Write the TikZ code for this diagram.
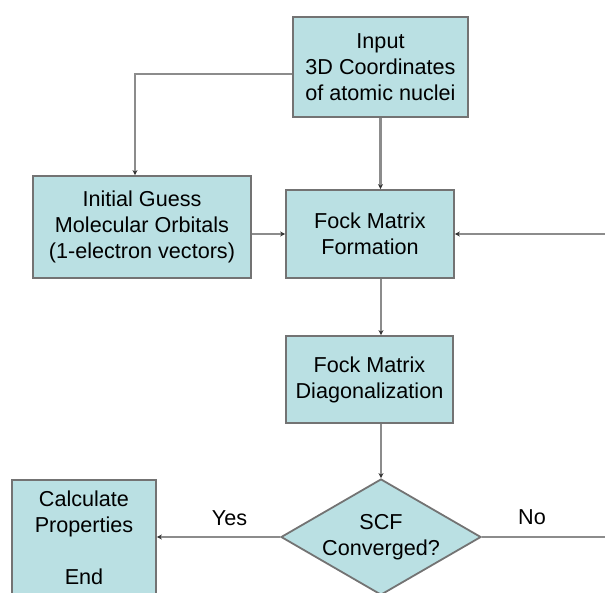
\documentclass[tikz,border=0pt]{standalone}
\usepackage{fontspec}
\setmainfont{Liberation Sans}
\usetikzlibrary{arrows.meta,shapes.geometric}
\definecolor{boxfill}{RGB}{186,224,227}
\definecolor{boxline}{RGB}{115,115,115}
\definecolor{conn}{RGB}{140,140,140}
\definecolor{tipc}{RGB}{50,50,50}
\begin{document}
\begin{tikzpicture}[x=1pt,y=-1pt,
  font=\fontsize{21.6}{26}\selectfont,
  box/.style={draw=boxline,line width=1.8pt,fill=boxfill,rectangle,align=center,inner sep=0pt,text=black},
  dec/.style={draw=boxline,line width=1.8pt,fill=boxfill,diamond,inner sep=0pt,minimum width=200pt,minimum height=116pt},
  conn/.style={draw=conn,line width=2.2pt,-{Stealth[length=5pt,width=5pt,color=tipc]}},
  lbl/.style={text=black,inner sep=0pt}
]
\useasboundingbox (0,0) rectangle (605,592);
\clip (0,0) rectangle (605,592);
\node[box,minimum width=175pt,minimum height=100pt] (input) at (380.5,67) {Input\\3D Coordinates\\of atomic nuclei};
\node[box,minimum width=218pt,minimum height=102pt] (guess) at (142,227) {Initial Guess\\Molecular Orbitals\\(1-electron vectors)};
\node[box,minimum width=168pt,minimum height=88pt] (fock) at (370,234) {Fock Matrix\\Formation};
\node[box,minimum width=167pt,minimum height=87pt] (diag) at (369.5,379.5) {Fock Matrix\\Diagonalization};
\node[dec,label={[lbl,align=center]center:SCF\\Converged?}] (scf) at (381,537) {};
\node[box,minimum width=144pt,minimum height=116pt] (calc) at (84,538) {Calculate\\Properties\\\\End};
\coordinate (loopR) at (650,537);
\draw[conn] ([yshift=-7pt]input.west) -| ([xshift=-7pt]guess.north);
\draw[conn] (input.south) -- (input.south |- fock.north);
\draw[conn] (guess.east |- fock.west) -- (fock.west);
\draw[conn] (fock.south -| scf.north) -- (diag.north -| scf.north);
\draw[conn] (diag.south -| scf.north) -- (scf.north);
\draw[conn] (scf.west) -- (calc.east |- scf.west) node[lbl,pos=0.41,above=10pt] {Yes};
\draw[conn] (scf.east) -- (loopR) |- (fock.east);
\node[lbl] (no) at (532,517) {No};
\end{tikzpicture}
\end{document}
